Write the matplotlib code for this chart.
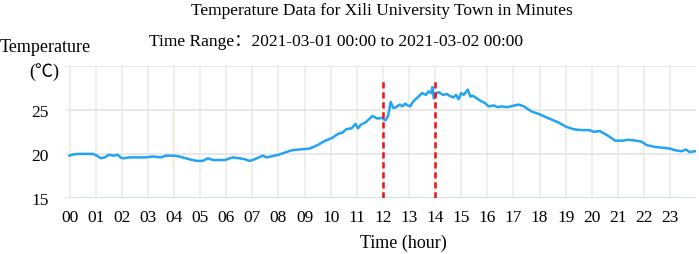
import numpy as np
from matplotlib import pyplot as plt

# readings taken off the chart (hour of day, temperature in deg C)
hours = [0.0, 0.1, 0.3, 0.6, 0.9, 1.05, 1.2, 1.35, 1.5, 1.7, 1.85, 1.95, 2.05, 2.3,
         2.6, 2.9, 3.2, 3.5, 3.7, 4.0, 4.2, 4.45, 4.7, 4.9, 5.1, 5.3, 5.5, 5.75,
         5.95, 6.25, 6.5, 6.7, 6.9, 7.1, 7.4, 7.55, 7.7, 8.0, 8.2, 8.5, 8.8, 9.2,
         9.5, 9.8, 10.05, 10.3, 10.45, 10.6, 10.8, 10.95, 11.05, 11.15, 11.35,
         11.6, 11.8, 11.95, 12.1, 12.2, 12.3, 12.4, 12.5, 12.65, 12.75, 12.85,
         12.95, 13.05, 13.15, 13.25, 13.4, 13.5, 13.65, 13.75, 13.85, 13.9,
         13.95, 14.05, 14.15, 14.3, 14.45, 14.55, 14.7, 14.8, 14.9, 15.0, 15.1,
         15.25, 15.35, 15.45, 15.6, 15.75, 15.9, 16.05, 16.25, 16.4, 16.55,
         16.75, 16.9, 17.05, 17.2, 17.4, 17.7, 18.0, 18.3, 18.7, 19.0, 19.3,
         19.6, 19.9, 20.1, 20.3, 20.6, 20.9, 21.2, 21.4, 21.7, 21.9, 22.1, 22.4,
         22.7, 23.0, 23.2, 23.45, 23.6, 23.75, 23.95]
temps = [19.8, 19.9, 20.0, 20.0, 20.0, 19.8, 19.5, 19.6, 19.9, 19.8, 19.9, 19.6,
         19.5, 19.6, 19.6, 19.6, 19.7, 19.6, 19.8, 19.8, 19.7, 19.5, 19.3, 19.2,
         19.2, 19.5, 19.3, 19.3, 19.3, 19.6, 19.5, 19.4, 19.2, 19.4, 19.8, 19.6,
         19.7, 19.9, 20.1, 20.4, 20.5, 20.6, 21.0, 21.5, 21.8, 22.3, 22.4, 22.8,
         22.9, 23.4, 22.9, 23.3, 23.6, 24.3, 24.0, 24.1, 23.8, 24.3, 25.9, 25.2,
         25.3, 25.6, 25.4, 25.7, 25.5, 25.4, 25.9, 26.2, 26.6, 26.9, 26.7, 27.1,
         26.9, 27.6, 26.3, 26.9, 27.0, 26.7, 26.8, 26.6, 26.4, 26.7, 26.2, 26.9,
         26.7, 27.3, 26.5, 26.6, 26.3, 26.0, 25.8, 25.4, 25.5, 25.3, 25.4, 25.3,
         25.4, 25.5, 25.6, 25.4, 24.8, 24.5, 24.1, 23.6, 23.1, 22.8, 22.7, 22.7,
         22.5, 22.6, 22.1, 21.5, 21.5, 21.6, 21.5, 21.4, 21.0, 20.8, 20.7, 20.6,
         20.4, 20.3, 20.5, 20.2, 20.3]
hour_labels = ['%02d' % h for h in range(24)]
y_ticks = [15, 20, 25]
marked_hours = [12, 14]

serif = ['Liberation Serif', 'Noto Sans CJK SC', 'DejaVu Sans']
plt.rcParams['font.family'] = serif

fig = plt.figure(figsize=(6.99, 2.55), dpi=100)
ax = fig.add_axes([0.095, 0.22, 0.901, 0.518])

ax.plot(hours, temps, color='#22a3f3', linewidth=1.8, zorder=3)
for h in marked_hours:
    ax.plot([h, h], [15, 28.5], color='#ee1111', linestyle=(0, (2.5, 1.5)), linewidth=1.8, zorder=4)

# faint stray mark near 04:00 in the original
ax.plot([3.95, 3.95], [18.5, 25.0], color='#fdebd8', linewidth=1.2, zorder=1)

ax.set_xlim(-0.12, 24)
ax.set_ylim(15, 30)
ax.set_xticks(range(24))
ax.set_xticklabels(hour_labels)
ax.set_yticks(y_ticks)
ax.tick_params(axis='both', length=0, labelsize=12.5, pad=8)
ax.tick_params(axis='y', pad=13)

for h in range(24):
    ax.axvline(h, color='#ebebeb', linewidth=1.2, zorder=0)
for v in [20, 25, 30]:
    ax.axhline(v, color='#e4e4e4', linewidth=1.2, zorder=0)
ax.axhline(15, color='#cfe2f6', linewidth=1.5, zorder=1)

for s in ax.spines.values():
    s.set_visible(False)

ax.set_xlabel('Time (hour)', fontsize=13, va='center')
ax.xaxis.set_label_coords(0.535, -0.335)

fig.text(0.547, 0.955, 'Temperature Data for Xili University Town in Minutes',
         ha='center', va='center', fontsize=12.5)
fig.text(0.48, 0.835, 'Time Range：2021-03-01 00:00 to 2021-03-02 00:00',
         ha='center', va='center', fontsize=12.5)
fig.text(0.065, 0.815, 'Temperature', ha='center', va='center', fontsize=13)
fig.text(0.063, 0.718, '(℃)', ha='center', va='center', fontsize=13)

plt.savefig('out.png', dpi=100)
